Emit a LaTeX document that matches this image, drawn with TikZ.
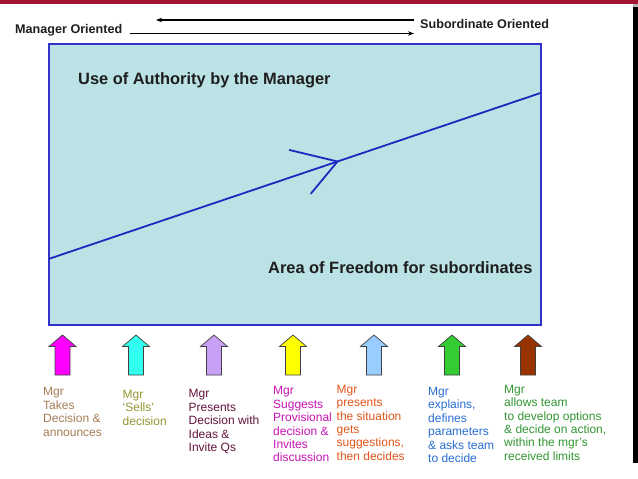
\documentclass[tikz,border=0pt]{standalone}
\usepackage{fontspec}
\setmainfont{Liberation Sans}
\usetikzlibrary{arrows.meta}
\definecolor{topred}{RGB}{160,22,50}
\definecolor{rectblue}{RGB}{50,50,200}
\definecolor{rectfill}{RGB}{187,226,229}
\definecolor{lineblue}{RGB}{30,40,190}
\definecolor{hdrtext}{RGB}{30,30,30}
\definecolor{aone}{RGB}{255,0,255}
\definecolor{atwo}{RGB}{51,255,240}
\definecolor{athree}{RGB}{200,160,245}
\definecolor{afour}{RGB}{255,255,0}
\definecolor{afive}{RGB}{153,204,255}
\definecolor{asix}{RGB}{51,204,51}
\definecolor{aseven}{RGB}{153,51,0}
\definecolor{tone}{RGB}{165,125,85}
\definecolor{ttwo}{RGB}{150,150,50}
\definecolor{tthree}{RGB}{100,20,60}
\definecolor{tfour}{RGB}{200,20,180}
\definecolor{tfive}{RGB}{225,85,25}
\definecolor{tsix}{RGB}{40,110,210}
\definecolor{tseven}{RGB}{50,150,50}
\begin{document}
\begin{tikzpicture}[x=1pt,y=-1pt,
  hdr/.style={font=\bfseries\fontsize{12.6}{15}\selectfont, text=hdrtext, inner sep=0pt, anchor=base west},
  big/.style={font=\bfseries\fontsize{16.4}{20}\selectfont, text=hdrtext, inner sep=0pt, anchor=base west},
  toparr/.style={line width=1.2pt, -{Stealth[length=6pt,width=4.5pt]}},
  diag/.style={draw=lineblue, line width=1.8pt},
  blk/.style={draw=black!75, line width=0.7pt},
  lbl/.style={font=\fontsize{12}{13.4}\selectfont, align=left, inner sep=0pt, anchor=north west}]
\useasboundingbox (0,0) rectangle (638,479);
\fill[white] (0,0) rectangle (638,479);
\fill[topred] (0,0) rectangle (638,3.5);
\fill[black] (633,5) rectangle (638,463);
\fill[gray!60] (633,3.5) rectangle (638,7);

% header
\node[hdr] (mo) at (15,33) {Manager Oriented};
\node[hdr] (so) at (420,28) {Subordinate Oriented};
\coordinate (l1) at (130,33.5);
\coordinate (l2) at (414,33.5);
\coordinate (u1) at (414,20);
\coordinate (u2) at (156,20);
\draw[toparr] (l1) -- (l2);
\draw[toparr] (u1) -- (u2);

% main box
\node[draw=rectblue, fill=rectfill, line width=2pt, minimum width=492pt, minimum height=281pt,
      anchor=north west, inner sep=0pt, outer sep=0pt] (box) at (48.5,44) {};
\node[big] (auth) at (78,84) {Use of Authority by the Manager};
\node[big] (free) at (268,273) {Area of Freedom for subordinates};

% diagonal with chevron
\coordinate (d1) at (48.5,259);
\coordinate (d2) at (540.5,93);
\coordinate (apex) at (337.5,161.5);
\coordinate (arm1) at (289.5,150);
\coordinate (arm2) at (311,193.5);
\draw[diag] (d1) -- (d2);
\draw[diag, line cap=round] (arm1) -- (apex) -- (arm2);

% block arrows
\foreach \x/\c in {62.5/aone,136/atwo,214/athree,293/afour,374/afive,452/asix,528/aseven}{
  \draw[blk, fill=\c] (\x-7.5,375) -- (\x-7.5,346.5) -- (\x-13.5,346.5) -- (\x,335)
     -- (\x+13.5,346.5) -- (\x+7.5,346.5) -- (\x+7.5,375) -- cycle;
}

% labels
\node[lbl, text=tone] (t1) at (43,387.4) {Mgr\\Takes\\Decision \&\\announces};
\node[lbl, text=ttwo] (t2) at (122.5,389.9) {Mgr\\‘Sells’\\decision};
\node[lbl, text=tthree] (t3) at (188.5,389.4) {Mgr\\Presents\\Decision with\\Ideas \&\\Invite Qs};
\node[lbl, text=tfour] (t4) at (273,386.4) {Mgr\\Suggests\\Provisional\\decision \&\\Invites\\discussion};
\node[lbl, text=tfive] (t5) at (336.5,384.9) {Mgr\\presents\\the situation\\gets\\suggestions,\\then decides};
\node[lbl, text=tsix] (t6) at (428,387) {Mgr\\explains,\\defines\\parameters\\\& asks team\\to decide};
\node[lbl, text=tseven] (t7) at (504,384.9) {Mgr\\allows team\\to develop options\\\& decide on action,\\within the mgr's\\received limits};
\end{tikzpicture}
\end{document}
